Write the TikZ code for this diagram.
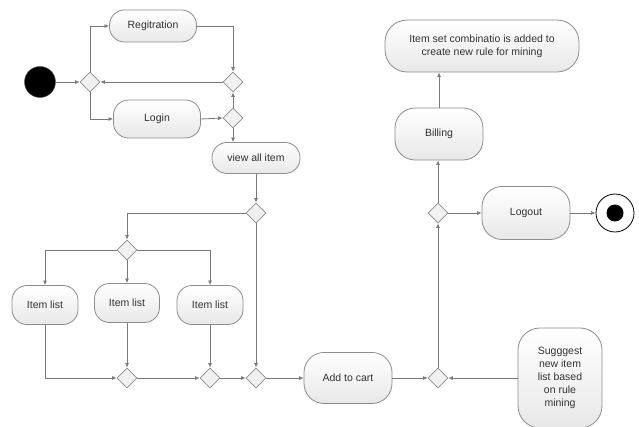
\documentclass[tikz,border=0pt]{standalone}
\usepackage{fontspec}
\setmainfont{Liberation Sans}
\usetikzlibrary{shapes.geometric,arrows.meta,calc}
\definecolor{linegray}{RGB}{120,120,120}
\definecolor{boxborder}{RGB}{140,140,140}
\definecolor{boxfill}{RGB}{232,232,232}
\definecolor{textgray}{RGB}{50,50,50}
\tikzset{
  act/.style={rectangle, rounded corners=15pt, draw=boxborder, line width=0.8pt,
    top color=white, bottom color=boxfill, text=textgray, font=\fontsize{10.5}{13}\selectfont,
    align=center, inner sep=2pt},
  dec/.style={diamond, draw=boxborder, line width=0.8pt, fill=boxfill!60,
    minimum width=20pt, minimum height=20pt, inner sep=0pt},
  arr/.style={draw=linegray, line width=0.8pt, -{Latex[length=4.5pt,width=4pt]}},
}
\begin{document}
\begin{tikzpicture}[x=1pt,y=-1pt]
\useasboundingbox (0,0) rectangle (639,427);
% initial and final states
\node[circle, fill=black, draw=black!70, minimum size=31pt, inner sep=0pt] (start) at (40,82) {};
\node[circle, draw=black, line width=0.8pt, fill=white, minimum size=38pt, inner sep=0pt] (stop) at (615,213) {};
\node[circle, fill=black, minimum size=17pt, inner sep=0pt] at (stop) {};
% actions
\node[act, minimum width=87pt, minimum height=32pt] (reg) at (153,26) {Regitration};
\node[act, minimum width=87pt, minimum height=38pt] (login) at (157,119) {Login};
\node[act, minimum width=88pt, minimum height=31pt] (view) at (256,158) {view all item};
\node[act, minimum width=66pt, minimum height=39pt] (item1) at (45,305) {Item list};
\node[act, minimum width=65pt, minimum height=39pt] (item2) at (127,303) {Item list};
\node[act, minimum width=66pt, minimum height=39pt] (item3) at (210,305) {Item list};
\node[act, minimum width=88pt, minimum height=51pt, rounded corners=20pt] (cart) at (348,378) {Add to cart};
\node[act, minimum width=84pt, minimum height=100pt, rounded corners=22pt] (sugg) at (560,378) {Sugggest\\new item\\list based\\on rule\\mining};
\node[act, minimum width=88pt, minimum height=53pt, rounded corners=20pt] (logout) at (526,213) {Logout};
\node[act, minimum width=88pt, minimum height=52pt, rounded corners=20pt] (bill) at (439,134) {Billing};
\node[act, minimum width=194pt, minimum height=52pt, rounded corners=22pt] (iset) at (482,46) {Item set combinatio is added to\\create new rule for mining};
% decisions
\node[dec] (d1) at (90,82) {};
\node[dec] (d2) at (233,82) {};
\node[dec] (d3) at (233,118) {};
\node[dec] (d4) at (256,213) {};
\node[dec] (d5) at (127,250) {};
\node[dec] (d6) at (127,378) {};
\node[dec] (d7) at (210,378) {};
\node[dec] (d8) at (256,378) {};
\node[dec] (d9) at (438,378) {};
\node[dec] (d10) at (438,213) {};
% flows
\draw[arr] (start) -- (d1);
\draw[arr] (d1.north) |- (reg.west);
\draw[arr] (d1.south) |- (login.west);
\draw[arr] (reg.east) -| (d2.north);
\draw[arr] (d2.west) -- (d1.east);
\draw[arr] (login.east) -- (d3.west);
\draw[arr] (d3.north) -- (d2.south);
\draw[arr] (d3.south) -- (d3.south |- view.north);
\draw[arr] (view.south) -- (d4.north);
\draw[arr] (d4.west) -| (d5.north);
\draw[arr] (d4.south) -- (d8.north);
\draw[arr] (d5.west) -| (item1.north);
\draw[arr] (d5.south) -- (item2.north);
\draw[arr] (d5.east) -| (item3.north);
\draw[arr] (item1.south) |- (d6.west);
\draw[arr] (item2.south) -- (d6.north);
\draw[arr] (d6.east) -- (d7.west);
\draw[arr] (item3.south) -- (d7.north);
\draw[arr] (d7.east) -- (d8.west);
\draw[arr] (d8.east) -- (cart.west);
\draw[arr] (cart.east) -- (d9.west);
\draw[arr] (sugg.west) -- (d9.east);
\draw[arr] (d9.north) -- (d10.south);
\draw[arr] (d10.east) -- (logout.west);
\draw[arr] (logout.east) -- (stop.west);
\draw[arr] (d10.north) -- (d10.north |- bill.south);
\draw[arr] (bill.north) -- (bill.north |- iset.south);
\end{tikzpicture}
\end{document}
